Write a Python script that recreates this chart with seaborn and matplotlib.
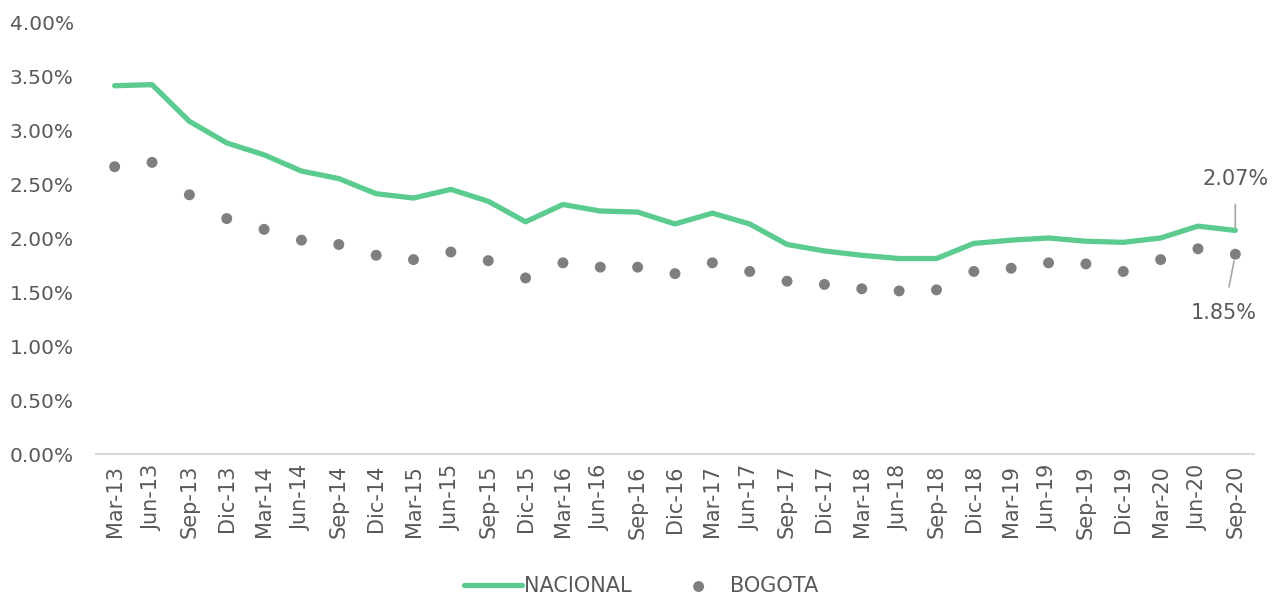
import numpy as np
import pandas as pd
import matplotlib
matplotlib.use("Agg")
import matplotlib.pyplot as plt
import seaborn as sns
from matplotlib.ticker import FuncFormatter

periods = ['Mar-13', 'Jun-13', 'Sep-13', 'Dic-13', 'Mar-14', 'Jun-14', 'Sep-14', 'Dic-14',
           'Mar-15', 'Jun-15', 'Sep-15', 'Dic-15', 'Mar-16', 'Jun-16', 'Sep-16', 'Dic-16',
           'Mar-17', 'Jun-17', 'Sep-17', 'Dic-17', 'Mar-18', 'Jun-18', 'Sep-18', 'Dic-18',
           'Mar-19', 'Jun-19', 'Sep-19', 'Dic-19', 'Mar-20', 'Jun-20', 'Sep-20']

nacional = [3.41, 3.42, 3.08, 2.88, 2.77, 2.62, 2.55, 2.41, 2.37, 2.45, 2.34, 2.15,
            2.31, 2.25, 2.24, 2.13, 2.23, 2.13, 1.94, 1.88, 1.84, 1.81, 1.81, 1.95,
            1.98, 2.00, 1.97, 1.96, 2.00, 2.11, 2.07]

bogota = [2.66, 2.70, 2.40, 2.18, 2.08, 1.98, 1.94, 1.84, 1.80, 1.87, 1.79, 1.63,
          1.77, 1.73, 1.73, 1.67, 1.77, 1.69, 1.60, 1.57, 1.53, 1.51, 1.52, 1.69,
          1.72, 1.77, 1.76, 1.69, 1.80, 1.90, 1.85]

df = pd.DataFrame({'periodo': periods, 'NACIONAL': nacional, 'BOGOTA': bogota})
df['x'] = np.arange(len(df))

sns.set_style("white")
plt.rcParams['font.family'] = ['DejaVu Sans']
text_color = '#595959'
green = '#5ccb8f'
grey = '#7f7f7f'

fig = plt.figure(figsize=(12.82, 5.98), dpi=100)
ax = fig.add_axes([96 / 1282, (598 - 454) / 598, (1254 - 96) / 1282, (454 - 22) / 598])

sns.lineplot(data=df, x='x', y='NACIONAL', color=green, linewidth=3.8,
             solid_capstyle='round', ax=ax, label='NACIONAL')
sns.scatterplot(data=df, x='x', y='BOGOTA', color=grey, s=62, edgecolor='none',
                ax=ax, label='BOGOTA')

ax.set_xlim(-0.5, len(df) - 0.5)
ax.set_ylim(0, 4)
ax.set_yticks(np.arange(0, 4.01, 0.5))
ax.yaxis.set_major_formatter(FuncFormatter(lambda v, p: f'{v:.2f}%'))
ax.set_xticks(df['x'])
ax.set_xticklabels(df['periodo'], rotation=90)
ax.tick_params(axis='both', length=0, colors=text_color)
ax.tick_params(axis='y', labelsize=14.5, pad=16)
ax.tick_params(axis='x', labelsize=15, pad=8)
ax.set_xlabel('')
ax.set_ylabel('')

for s in ['top', 'right', 'left']:
    ax.spines[s].set_visible(False)
ax.spines['bottom'].set_color('#d9d9d9')
ax.spines['bottom'].set_linewidth(1.5)

last = len(df) - 1
ax.annotate(f'{nacional[-1]:.2f}%', xy=(last, nacional[-1]), xytext=(last, 2.55),
            ha='center', va='center', fontsize=15, color=text_color,
            arrowprops=dict(arrowstyle='-', color='#a6a6a6', lw=1.2, shrinkA=9, shrinkB=2))
ax.annotate(f'{bogota[-1]:.2f}%', xy=(last, bogota[-1]), xytext=(last - 0.3, 1.31),
            ha='center', va='center', fontsize=15, color=text_color,
            arrowprops=dict(arrowstyle='-', color='#a6a6a6', lw=1.2, shrinkA=9, shrinkB=5))

handles, labels = ax.get_legend_handles_labels()
ax.get_legend().remove()
fig.legend(handles, labels, loc='center', bbox_to_anchor=(0.5, 12 / 598), ncol=2,
           frameon=False, fontsize=15, handlelength=2.8, handletextpad=0.1,
           columnspacing=1.8, labelcolor=text_color, borderpad=0)

fig.savefig('out.png', dpi=100)
